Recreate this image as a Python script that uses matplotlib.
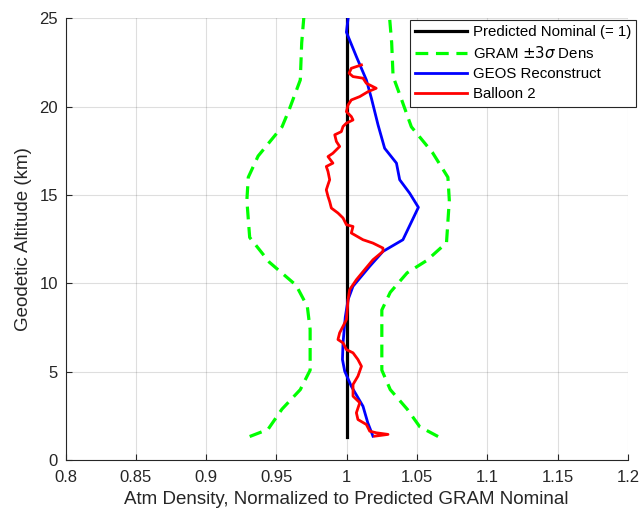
import matplotlib
matplotlib.use("Agg")
import matplotlib.pyplot as plt

# GRAM -3 sigma / +3 sigma density bounds (normalized), with altitude (km)
gram_lo_alt = [1.35, 1.75, 2.9, 4.0, 5.1, 7.4, 8.7, 9.9, 11.2, 12.6, 14.7, 16.0, 17.2, 18.85, 19.8, 21.5, 23.6, 25.5]
gram_lo = [0.931, 0.944, 0.954, 0.967, 0.974, 0.974, 0.972, 0.964, 0.945, 0.931, 0.929, 0.930, 0.937, 0.954, 0.959, 0.967, 0.968, 0.970]
gram_hi_alt = [1.35, 1.9, 2.9, 4.0, 5.1, 8.5, 9.5, 10.6, 11.3, 12.3, 14.7, 16.0, 17.4, 18.85, 20.4, 21.7, 23.6, 25.5]
gram_hi = [1.065, 1.052, 1.043, 1.031, 1.025, 1.025, 1.031, 1.043, 1.057, 1.071, 1.073, 1.072, 1.061, 1.046, 1.039, 1.033, 1.032, 1.030]

# GEOS reconstruction
geos_alt = [1.37, 2.13, 3.06, 4.19, 5.04, 5.7, 6.64, 8.1, 9.09, 9.84, 10.97, 11.81, 12.47, 14.3, 15.1, 15.86, 16.8, 17.64, 18.96, 20.46, 21.5, 22.8, 24.2, 25.3]
geos = [1.0187, 1.015, 1.0116, 1.0033, 0.9986, 0.997, 0.9974, 0.999, 1.001, 1.0045, 1.0164, 1.0258, 1.040, 1.051, 1.0448, 1.0377, 1.0354, 1.027, 1.0223, 1.0176, 1.014, 1.007, 0.9998, 1.0015]

# Balloon 2 measurement
balloon_alt = [1.37, 1.47, 1.56, 1.65, 2.03, 2.31, 2.69, 3.26, 3.63, 4.29, 4.76, 5.32, 5.7, 6.08,
               6.26, 6.64, 6.83, 7.21, 7.58, 7.96, 9.09, 9.65, 10.21, 10.78, 11.34, 11.81, 12.0,
               12.28, 12.47, 12.85, 13.22, 13.32, 13.7, 13.98, 14.26, 14.63, 14.92, 15.29, 15.58,
               15.86, 16.33, 16.61, 16.8, 17.17, 17.36, 17.74, 18.02, 18.4, 18.58, 18.87, 19.06,
               19.24, 19.43, 19.71, 20.09, 20.37, 20.56, 20.84, 21.03, 21.31, 21.6, 21.69, 21.88,
               22.16, 22.35]
balloon = [1.0199, 1.0294, 1.0211, 1.0164, 1.014, 1.008, 1.0069, 1.0093, 1.0045, 1.0045, 1.008,
           1.0105, 1.008, 1.0045, 0.9998, 0.9974, 0.9938, 0.995, 0.9974, 0.9998, 1.001, 1.0021,
           1.0069, 1.0128, 1.0187, 1.0258, 1.0258, 1.0187, 1.0116, 1.0033, 1.0045, 0.9998,
           0.9974, 0.9938, 0.9891, 0.9879, 0.9867, 0.9855, 0.9867, 0.9879, 0.9867, 0.9855,
           0.9902, 0.9867, 0.9902, 0.995, 0.9927, 0.9915, 0.9962, 0.9974, 0.9998, 1.0045,
           1.0033, 0.9998, 1.001, 1.0033, 1.0093, 1.0152, 1.021, 1.014, 1.0116, 1.0045,
           1.0017, 1.0033, 1.0105]

nominal_alt = [1.35, 25.5]
nominal = [1.0, 1.0]

x_ticks = [0.8, 0.85, 0.9, 0.95, 1.0, 1.05, 1.1, 1.15, 1.2]
x_labels = ["0.8", "0.85", "0.9", "0.95", "1", "1.05", "1.1", "1.15", "1.2"]
y_ticks = [0, 5, 10, 15, 20, 25]

plt.rcParams["font.family"] = ["Liberation Sans", "DejaVu Sans"]
axis_gray = (0.15, 0.15, 0.15)

fig = plt.figure(figsize=(6.41, 5.15), dpi=100)
ax = fig.add_axes([0.1022, 0.106, 0.8773, 0.859])

ax.plot(nominal, nominal_alt, color="black", linewidth=2.3, label="Predicted Nominal (= 1)")
ax.plot(gram_lo, gram_lo_alt, color=(0, 1, 0), linewidth=2.3, dashes=(4, 2.4),
        label=r"GRAM $\pm3\sigma$ Dens")
ax.plot(gram_hi, gram_hi_alt, color=(0, 1, 0), linewidth=2.3, dashes=(4, 2.4))
ax.plot(geos, geos_alt, color=(0, 0, 1), linewidth=2.0, label="GEOS Reconstruct")
ax.plot(balloon, balloon_alt, color=(1, 0, 0), linewidth=2.0, label="Balloon 2")

ax.set_xlim(0.8, 1.2)
ax.set_ylim(0, 25)
ax.set_xticks(x_ticks)
ax.set_xticklabels(x_labels)
ax.set_yticks(y_ticks)
ax.grid(True, color=(0.15, 0.15, 0.15), alpha=0.15, linewidth=0.8)
ax.set_axisbelow(True)
ax.tick_params(direction="in", length=4, width=0.8, colors=axis_gray, labelsize=12)
ax.tick_params(axis="x", pad=7)
ax.tick_params(axis="y", pad=5.5)
ax.spines["top"].set_visible(False)
ax.spines["right"].set_visible(False)
for side in ("left", "bottom"):
    ax.spines[side].set_color(axis_gray)
    ax.spines[side].set_linewidth(0.8)

ax.set_xlabel("Atm Density, Normalized to Predicted GRAM Nominal", fontsize=13.5,
              color=axis_gray, labelpad=4)
ax.set_ylabel("Geodetic Altitude (km)", fontsize=13.5, color=axis_gray, labelpad=5)

leg = ax.legend(loc="upper left", bbox_to_anchor=(0.612, 0.995), fontsize=10.8, frameon=True,
                fancybox=False, edgecolor=axis_gray, framealpha=1, handlelength=3.5,
                borderpad=0.35, labelspacing=0.4, handletextpad=0.35, borderaxespad=0)
leg.get_frame().set_linewidth(0.8)

fig.savefig("out.png", dpi=100)
